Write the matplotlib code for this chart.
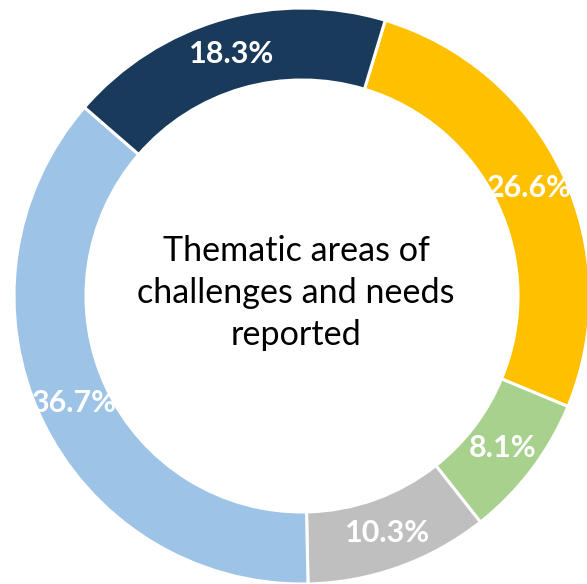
import matplotlib.pyplot as plt

# donut: thematic areas share (%)
labels = ['26.6%', '8.1%', '10.3%', '36.7%', '18.3%']
values = [26.6, 8.1, 10.3, 36.7, 18.3]
colors = ['#FFC000', '#A9D18E', '#BFBFBF', '#9DC3E6', '#193A5A']
center_text = 'Thematic areas of\nchallenges and needs\nreported'

fig = plt.figure(figsize=(5.87, 5.84), dpi=100)
W, H = 587, 584
cx, cy, R = 302, 288, 288   # pixels, cy from bottom
ax = fig.add_axes([(cx - R) / W, (cy - R) / H, 2 * R / W, 2 * R / H])

wedges, texts = ax.pie(values, colors=colors, startangle=73.2, counterclock=False,
                       radius=1, labels=labels, labeldistance=0.875,
                       wedgeprops=dict(width=0.25, edgecolor='white', linewidth=2.2),
                       textprops=dict(color='white', fontweight='bold', fontsize=22,
                                      family='Lato', ha='center', va='center'))
for t in texts:
    t.set_ha('center')
    t.set_va('center')

ax.text(-0.02, 0.01, center_text, ha='center', va='center', fontsize=24.6,
        family='Lato', color='black', linespacing=1.38)

ax.set_xlim(-1, 1)
ax.set_ylim(-1, 1)
ax.set_aspect('equal')
ax.axis('off')

fig.savefig('out.png', dpi=100)
